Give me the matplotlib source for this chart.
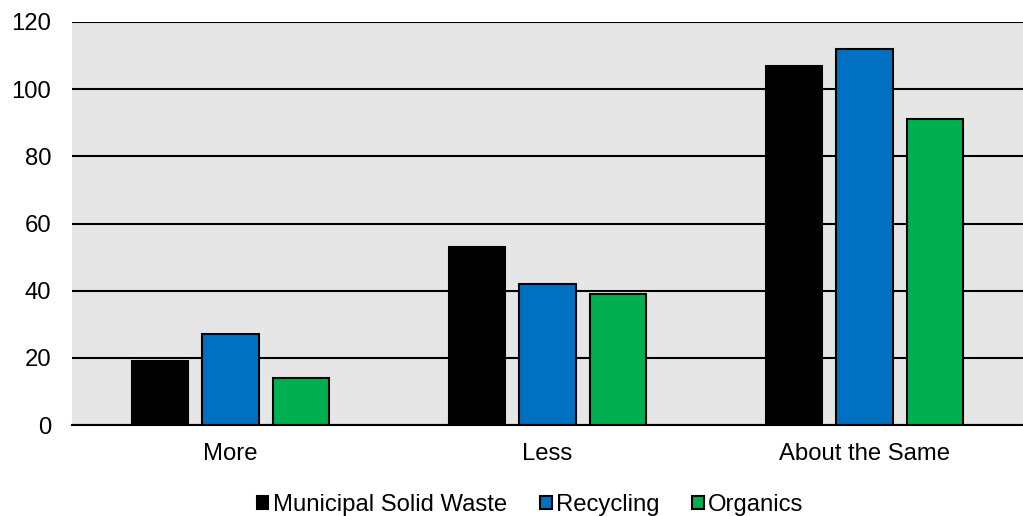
import numpy as np
import matplotlib
matplotlib.use('Agg')
import matplotlib.pyplot as plt
from matplotlib.patches import Patch

plt.rcParams['font.family'] = ['Liberation Sans', 'DejaVu Sans']

categories = ["More", "Less", "About the Same"]
series_names = ["Municipal Solid Waste", "Recycling", "Organics"]
msw = [19, 53, 107]
recycling = [27, 42, 112]
organics = [14, 39, 91]
colors = ["#000000", "#0070C0", "#00B050"]

fig = plt.figure(figsize=(10.23, 5.16), dpi=100)
ax = fig.add_axes([72 / 1023, 91 / 516, 951 / 1023, 403 / 516])
ax.set_facecolor("#E6E6E6")

x = np.arange(len(categories))
width = 0.177
step = 0.221
for i, (vals, col) in enumerate(zip([msw, recycling, organics], colors)):
    ax.bar(x + (i - 1) * step, vals, width, color=col, edgecolor="black",
           linewidth=1.5, zorder=3)

ax.set_xlim(-0.5, 2.5)
ax.set_ylim(0, 120)
ax.set_yticks(range(0, 121, 20))
ax.set_xticks(x)
ax.set_xticklabels(categories)
ax.yaxis.grid(True, color="black", linewidth=1.5, zorder=1)
ax.set_axisbelow(True)
ax.tick_params(length=0, labelsize=17.2)
ax.tick_params(axis='y', pad=15)
ax.tick_params(axis='x', pad=13)
for s in ["top", "left", "right"]:
    ax.spines[s].set_visible(False)
ax.spines["bottom"].set_linewidth(1.5)
ax.spines["bottom"].set_zorder(4)

handles = [Patch(facecolor=c, edgecolor="black", linewidth=1.5) for c in colors]
fig.legend(handles, series_names, loc="center", bbox_to_anchor=(530 / 1023, 11 / 516),
           ncol=3, frameon=False, fontsize=17.2, handlelength=0.5, handleheight=0.5,
           handletextpad=0.17, columnspacing=1.38, borderpad=0)

fig.savefig("out.png", dpi=100)
